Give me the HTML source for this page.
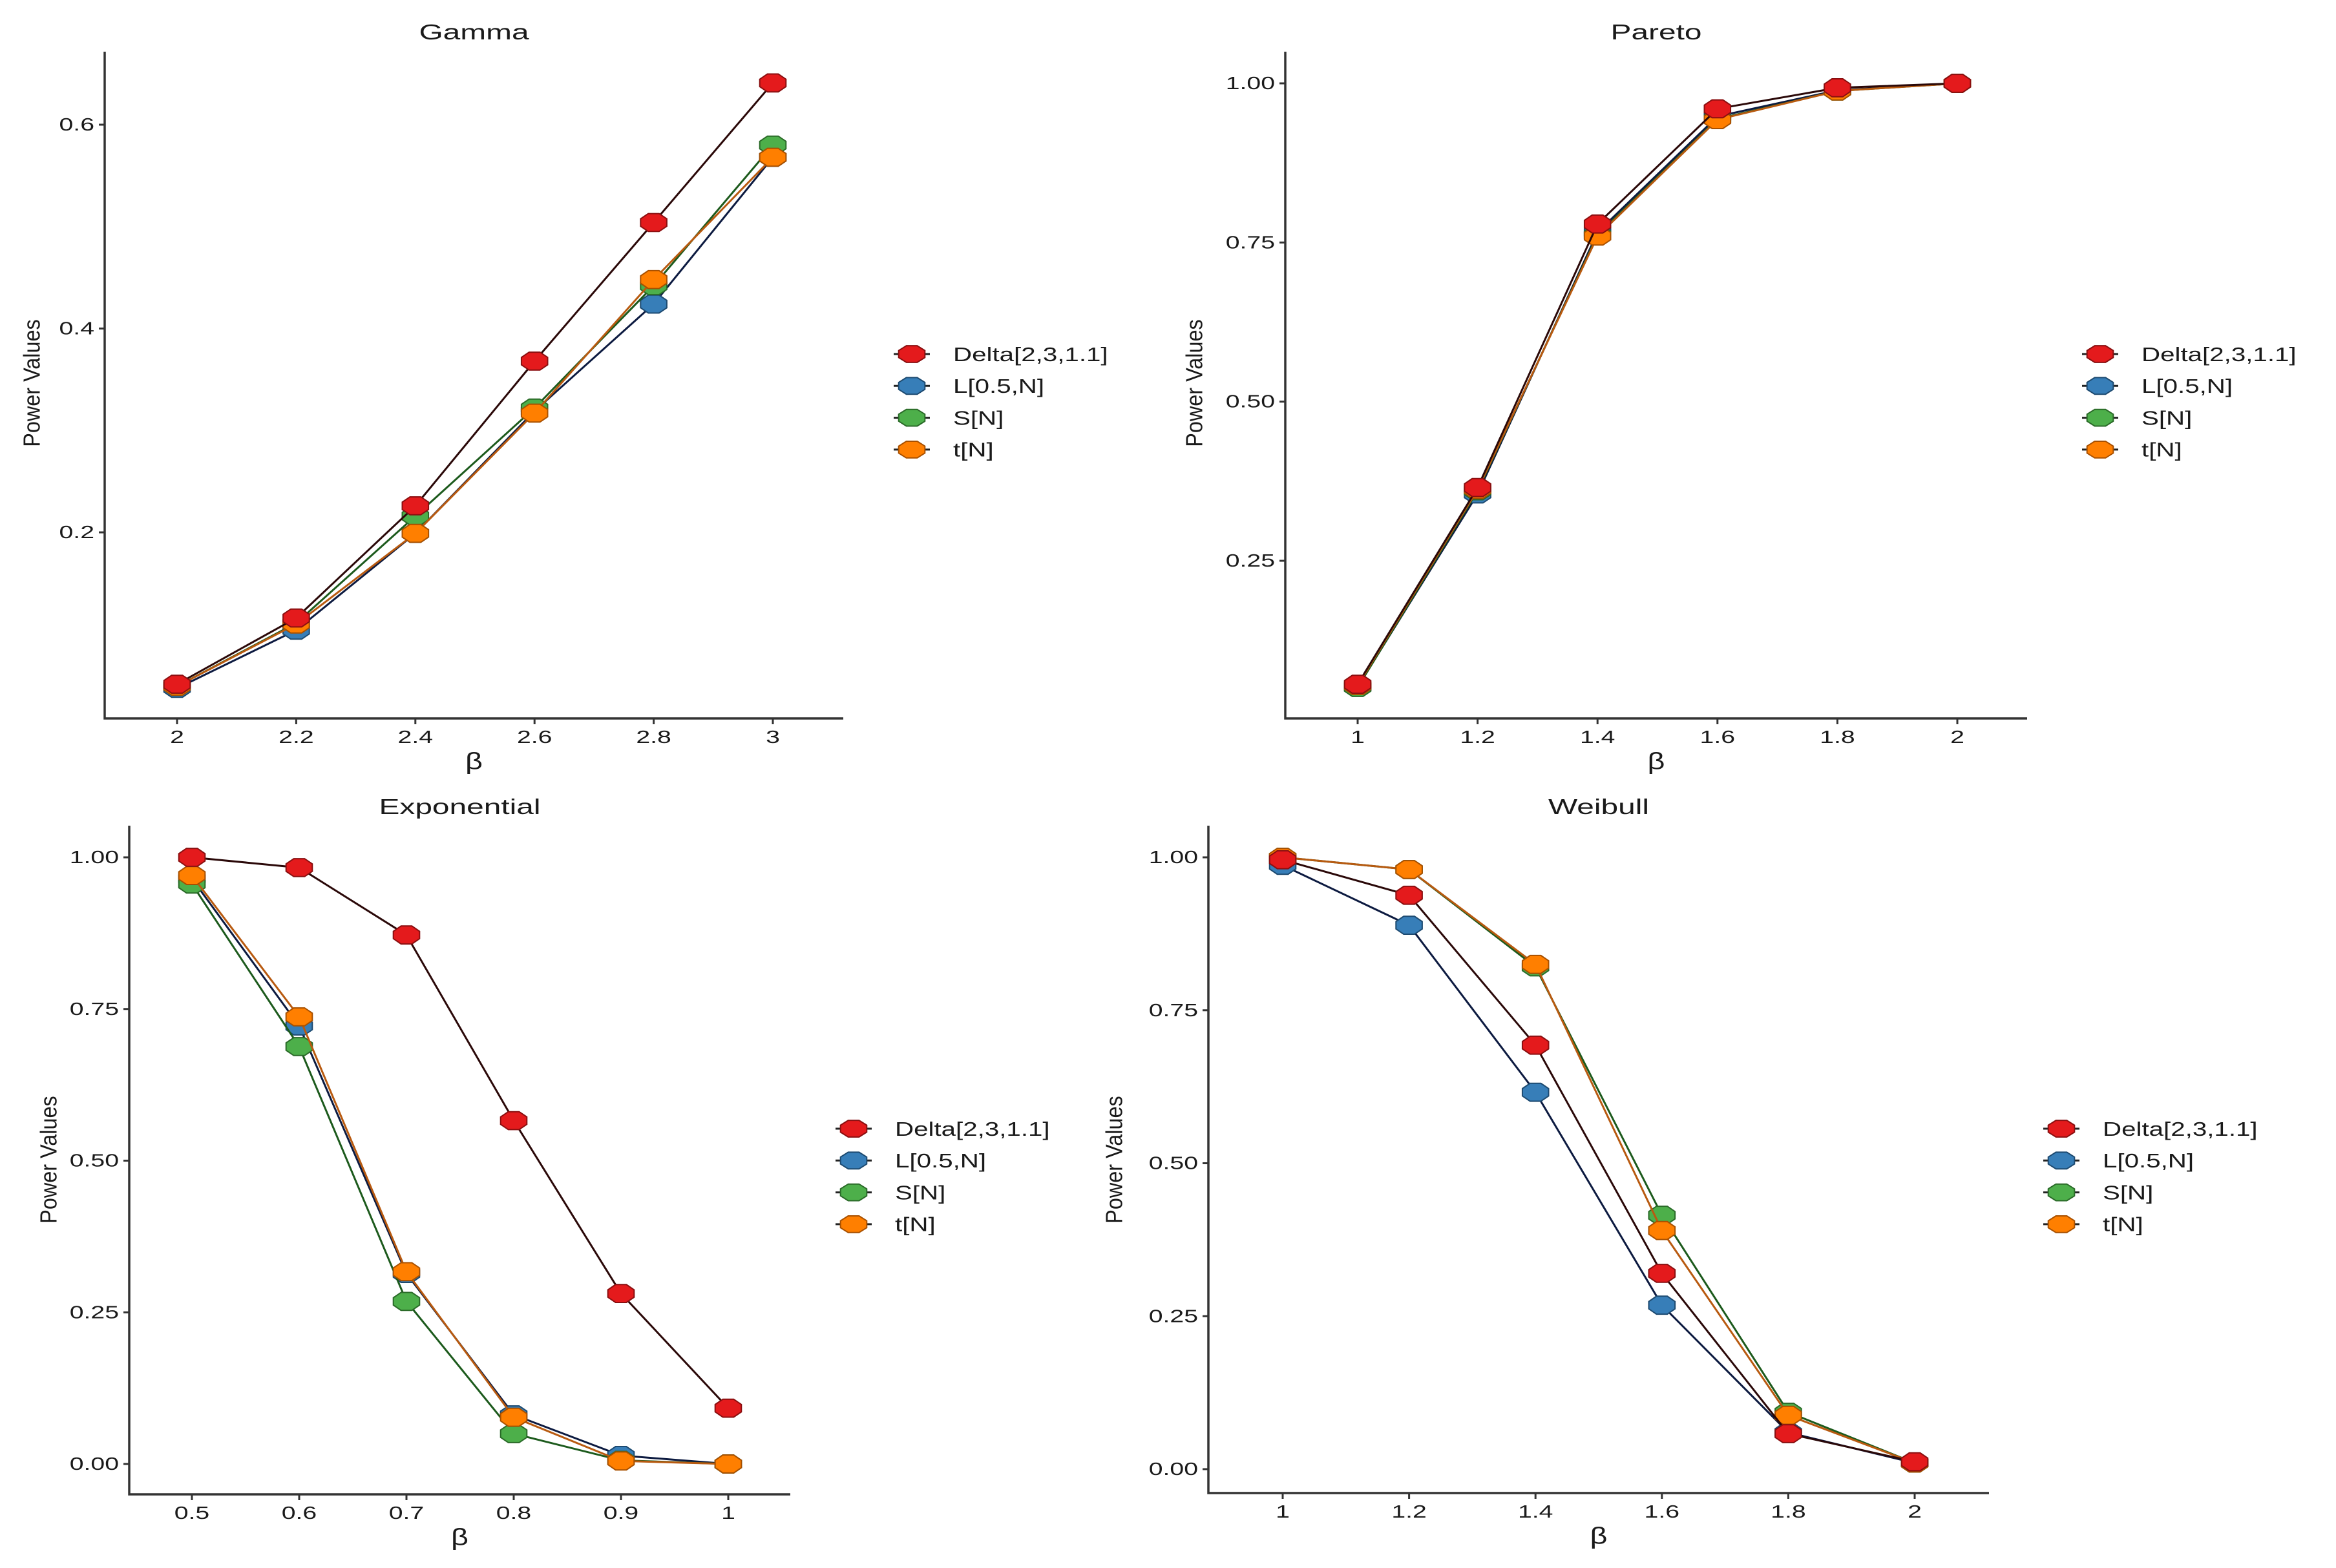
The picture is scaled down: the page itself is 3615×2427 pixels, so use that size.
<!DOCTYPE html>
<html><head><meta charset="utf-8"><style>
html,body{margin:0;padding:0;background:#fff;}
svg{display:block;font-family:"Liberation Sans",sans-serif;}
</style></head><body>
<svg id="chart" width="3615" height="2427" viewBox="0 0 3615 2427" xmlns="http://www.w3.org/2000/svg"></svg>
<script>
// ---- Data ----
const seriesNames = ["Delta[2,3,1.1]", "L[0.5,N]", "S[N]", "t[N]"];
const gammaX = [2, 2.2, 2.4, 2.6, 2.8, 3];
const gammaDelta = [0.051, 0.116, 0.226, 0.368, 0.504, 0.641];
const gammaL = [0.047, 0.104, 0.199, 0.319, 0.424, 0.568];
const gammaS = [0.049, 0.111, 0.216, 0.322, 0.442, 0.580];
const gammaT = [0.049, 0.110, 0.199, 0.317, 0.448, 0.568];
const gammaTicksY = [0.2, 0.4, 0.6];
const gammaTickLabelsY = ["0.2", "0.4", "0.6"];
const gammaTickLabelsX = ["2", "2.2", "2.4", "2.6", "2.8", "3"];

const paretoX = [1, 1.2, 1.4, 1.6, 1.8, 2];
const paretoDelta = [0.056, 0.365, 0.779, 0.960, 0.993, 1.0];
const paretoL = [0.052, 0.355, 0.766, 0.948, 0.989, 1.0];
const paretoS = [0.051, 0.360, 0.762, 0.944, 0.988, 1.0];
const paretoT = [0.054, 0.362, 0.760, 0.943, 0.988, 1.0];
const paretoTicksY = [0.25, 0.5, 0.75, 1.0];
const paretoTickLabelsY = ["0.25", "0.50", "0.75", "1.00"];
const paretoTickLabelsX = ["1", "1.2", "1.4", "1.6", "1.8", "2"];

const expX = [0.5, 0.6, 0.7, 0.8, 0.9, 1];
const expDelta = [1.0, 0.983, 0.872, 0.566, 0.281, 0.092];
const expL = [0.965, 0.722, 0.314, 0.081, 0.014, 0.0];
const expS = [0.956, 0.688, 0.268, 0.050, 0.006, 0.0];
const expT = [0.970, 0.737, 0.317, 0.077, 0.005, 0.0];
const expTicksY = [0, 0.25, 0.5, 0.75, 1.0];
const expTickLabelsY = ["0.00", "0.25", "0.50", "0.75", "1.00"];
const expTickLabelsX = ["0.5", "0.6", "0.7", "0.8", "0.9", "1"];

const weibX = [1, 1.2, 1.4, 1.6, 1.8, 2];
const weibDelta = [0.996, 0.938, 0.693, 0.320, 0.058, 0.012];
const weibL = [0.987, 0.889, 0.616, 0.268, 0.060, 0.010];
const weibS = [1.0, 0.980, 0.821, 0.415, 0.093, 0.010];
const weibT = [1.0, 0.980, 0.825, 0.390, 0.088, 0.010];
const weibTicksY = [0, 0.25, 0.5, 0.75, 1.0];
const weibTickLabelsY = ["0.00", "0.25", "0.50", "0.75", "1.00"];
const weibTickLabelsX = ["1", "1.2", "1.4", "1.6", "1.8", "2"];

// ---- Rendering ----
const NS = "http://www.w3.org/2000/svg";
const svg = document.getElementById("chart");
const fills = ["#e41a1c", "#377eb8", "#4daf4a", "#ff7f00"];
const strokes = ["#8a0f10", "#1d4a70", "#2a6a28", "#a85000"];
const lineCols = ["#2a0808", "#0c1a40", "#1c5a1c", "#b85a10"];
const drawOrder = [1, 2, 3, 0];

function mk(tag, attrs, parent) {
  const e = document.createElementNS(NS, tag);
  for (const k in attrs) e.setAttribute(k, attrs[k]);
  (parent || svg).appendChild(e);
  return e;
}
function txt(parent, x, y, s, size, anchor, sx, rot) {
  const g = mk("g", {transform: "translate(" + x + "," + y + ")" + (rot ? " rotate(" + rot + ")" : "") + " scale(" + sx + ",1)"}, parent);
  const t = mk("text", {x: 0, y: 0, "font-size": size, "text-anchor": anchor, "dominant-baseline": "central", fill: "#1a1a1a"}, g);
  t.textContent = s;
  return t;
}
function octPts(cx, cy, rx, ry) {
  const p = [];
  for (let i = 0; i < 8; i++) {
    const a = Math.PI / 8 + i * Math.PI / 4;
    p.push((cx + rx * Math.cos(a)).toFixed(1) + "," + (cy + ry * Math.sin(a)).toFixed(1));
  }
  return p.join(" ");
}

function panel(cfg) {
  const g = mk("g", {});
  
  
  const xs = v => cfg.px0 + (v - cfg.xd0) / (cfg.xd1 - cfg.xd0) * (cfg.px1 - cfg.px0);
  const ys = v => cfg.py0 + (v - cfg.yd0) / (cfg.yd1 - cfg.yd0) * (cfg.py1 - cfg.py0);
  // title
  const tt = txt(g, (cfg.ax + cfg.axR) / 2 + cfg.titleDx, cfg.titleY, cfg.title, 33, "middle", 1.45);
  
  
  // axes
  const axes = mk("path", {d: "M" + cfg.ax + "," + cfg.axTop + " V" + cfg.ay + " H" + cfg.axR, fill: "none", stroke: "#333", "stroke-width": 3.5}, g);
  
  
  // y ticks
  cfg.ticksY.forEach((v, i) => {
    const y = ys(v);
    mk("line", {x1: cfg.ax - 9, x2: cfg.ax, y1: y, y2: y, stroke: "#333", "stroke-width": 3}, g);
    const t = txt(g, cfg.ax - 16, y, cfg.labelsY[i], 28, "end", 1.4);
    
    
  });
  // x ticks
  cfg.xs.forEach((v, i) => {
    const x = xs(v);
    mk("line", {x1: x, x2: x, y1: cfg.ay, y2: cfg.ay + 9, stroke: "#333", "stroke-width": 3}, g);
    const t = txt(g, x, cfg.ay + 29, cfg.labelsX[i], 28, "middle", 1.4);
    
    
  });
  const xt = txt(g, (cfg.ax + cfg.axR) / 2 + cfg.titleDx, cfg.ay + 66, "β", 36, "middle", 1.3);
  
  
  const yt = txt(g, cfg.yTitleX, cfg.yTitleY, "Power Values", 36, "middle", 0.9, -90);
  
  
  // series
  drawOrder.forEach(si => {
    const vals = cfg.series[si];
    const sg = mk("g", {}, g);
    
    
    const pts = cfg.xs.map((v, i) => xs(v).toFixed(1) + "," + ys(vals[i]).toFixed(1)).join(" ");
    const pl = mk("polyline", {points: pts, fill: "none", stroke: lineCols[si], "stroke-width": 3}, sg);
    
    
    cfg.xs.forEach((v, i) => {
      const m = mk("polygon", {points: octPts(xs(v), ys(vals[i]), 22, 15), fill: fills[si], stroke: strokes[si], "stroke-width": 2}, sg);
      
      
    });
  });
  // legend
  const lg = mk("g", {}, svg);
  
  
  seriesNames.forEach((n, i) => {
    const y = cfg.legY + i * 49.3;
    const e = mk("g", {}, lg);
    
    
    mk("line", {x1: cfg.legX - 28, x2: cfg.legX + 28, y1: y, y2: y, stroke: "#222", "stroke-width": 3}, e);
    mk("polygon", {points: octPts(cfg.legX, y, 22, 14), fill: fills[i], stroke: strokes[i], "stroke-width": 2}, e);
    txt(e, cfg.legX + 64, y, n, 31, "start", 1.3);
  });
}

panel({name: "gamma", title: "Gamma", titleDx: 0, ax: 162, axR: 1305, axTop: 80, ay: 1112,
  xd0: 2, xd1: 3, px0: 274, px1: 1196, yd0: 0.2, yd1: 0.6, py0: 824, py1: 193,
  titleY: 50, ticksY: gammaTicksY, labelsY: gammaTickLabelsY, xs: gammaX, labelsX: gammaTickLabelsX,
  yTitleX: 50, yTitleY: 593, series: [gammaDelta, gammaL, gammaS, gammaT], legX: 1411, legY: 548});
panel({name: "pareto", title: "Pareto", titleDx: 0, ax: 1989, axR: 3137, axTop: 80, ay: 1112,
  xd0: 1, xd1: 2, px0: 2101, px1: 3029, yd0: 0.25, yd1: 1.0, py0: 868, py1: 129,
  titleY: 50, ticksY: paretoTicksY, labelsY: paretoTickLabelsY, xs: paretoX, labelsX: paretoTickLabelsX,
  yTitleX: 1849, yTitleY: 593, series: [paretoDelta, paretoL, paretoS, paretoT], legX: 3250, legY: 548});
panel({name: "exponential", title: "Exponential", titleDx: 0, ax: 200, axR: 1223, axTop: 1278, ay: 2313,
  xd0: 0.5, xd1: 1, px0: 297, px1: 1127, yd0: 0, yd1: 1.0, py0: 2266, py1: 1327,
  titleY: 1249, ticksY: expTicksY, labelsY: expTickLabelsY, xs: expX, labelsX: expTickLabelsX,
  yTitleX: 76, yTitleY: 1795, series: [expDelta, expL, expS, expT], legX: 1321, legY: 1747});
panel({name: "weibull", title: "Weibull", titleDx: 0, ax: 1870, axR: 3078, axTop: 1278, ay: 2311,
  xd0: 1, xd1: 2, px0: 1985, px1: 2963, yd0: 0, yd1: 1.0, py0: 2274, py1: 1327,
  titleY: 1249, ticksY: weibTicksY, labelsY: weibTickLabelsY, xs: weibX, labelsX: weibTickLabelsX,
  yTitleX: 1725, yTitleY: 1795, series: [weibDelta, weibL, weibS, weibT], legX: 3190, legY: 1747});
</script>
</body></html>
